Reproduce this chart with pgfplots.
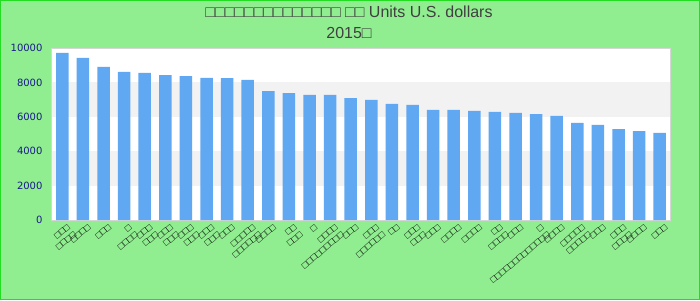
\documentclass[border=0pt]{standalone}
\usepackage{fontspec}
\setmainfont{Liberation Sans}
\newfontfamily\dejavu{DejaVu Sans}
\usepackage{pgfplots}
\pgfplotsset{compat=1.18}
\definecolor{bg}{HTML}{90EE90}
\definecolor{frame}{HTML}{22DD22}
\definecolor{barc}{HTML}{61A8F3}
\definecolor{band}{HTML}{F2F2F2}
\definecolor{ticknavy}{HTML}{1A1A8A}
\definecolor{titlec}{HTML}{404040}
\definecolor{border}{HTML}{D6D6D6}
\begin{document}
\begin{tikzpicture}[x=1pt,y=1pt]
\fill[bg] (-52,-80) rectangle (648,220);
\draw[frame, line width=1pt] (-51.5,-79.5) rectangle (647.5,219.5);
\node[font=\fontsize{16}{19}\selectfont, text=titlec] at (297,208) {□□□□□□□□□□□□□□ □□ Units U.S. dollars};
\node[font=\fontsize{16}{19}\selectfont, text=titlec] at (297,187) {2015□};
\begin{axis}[
  at={(0,0)}, anchor=south west,
  scale only axis, width=618pt, height=172pt,
  xmin=-0.5, xmax=29.5, ymin=0, ymax=10000,
  axis background/.style={fill=white},
  ytick={0,2000,4000,6000,8000,10000},
  scaled y ticks=false,
  yticklabel style={/pgf/number format/1000 sep={}, /pgf/number format/assume math mode=true,
    font=\dejavu\fontsize{10}{12}\selectfont, text=ticknavy, anchor=east, xshift=-6pt},
  xtick={0,...,29},
  xticklabels={{□□□\\□□□□},{□□□□},{□□□},{□\\□□□□},{□□□\\□□□},{□□□\\□□□},{□□□\\□□□},{□□□\\□□□},{□□□},{□□□□□\\□□□□□□},
    {□□□□},{□□\\□□□},{□},{□□□□\\□□□□□□□□□},{□□□},{□□□\\□□□□□□},{□□},{□□□\\□□□},{□□□},{□□□□},
    {□□□□},{□□\\□□□□},{□□□},{□\\□□□□□□□□□□□□□},{□□□□},{□□□□□\\□□□□□},{□□□},{□□□\\□□□□},{□□□□},{□□□}},
  xticklabel style={rotate=40, anchor=north east, align=right, font=\fontsize{9.5}{9.5}\selectfont, text=black, inner sep=1pt, xshift=2pt, yshift=-5pt},
  major tick length=0pt,
  axis line style={draw=border, line width=1pt},
  clip=false,
]
\fill[band] (axis cs:-0.5,2000) rectangle (axis cs:29.5,4000);
\fill[band] (axis cs:-0.5,6000) rectangle (axis cs:29.5,8000);
\addplot[ybar, bar width=12.5pt, fill=barc, draw=none] coordinates {
(0,9720) (1,9420) (2,8900) (3,8610) (4,8550) (5,8430) (6,8370) (7,8260) (8,8250) (9,8140)
(10,7500) (11,7380) (12,7270) (13,7270) (14,7090) (15,6980) (16,6750) (17,6690) (18,6400) (19,6400)
(20,6340) (21,6290) (22,6230) (23,6160) (24,6050) (25,5640) (26,5530) (27,5290) (28,5170) (29,5060)
};
\end{axis}
\end{tikzpicture}
\end{document}
